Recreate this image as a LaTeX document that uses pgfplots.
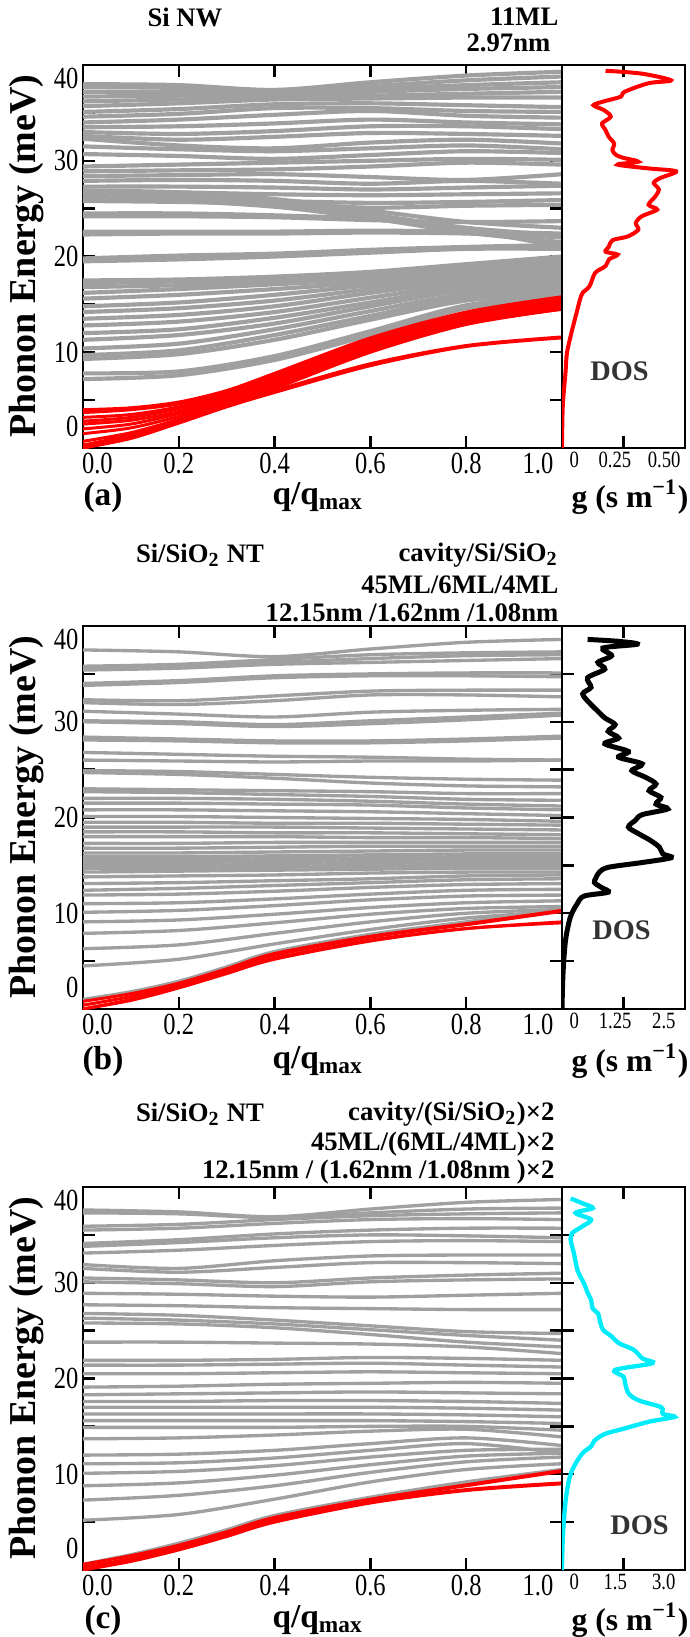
\documentclass[border=0pt]{standalone}
\usepackage{fontspec}
\setmainfont{Liberation Serif}
\newfontfamily\tickfont[FakeStretch=0.8]{Liberation Serif}
\usepackage{pgfplots}
\pgfplotsset{compat=1.18}
\definecolor{bandgray}{RGB}{160,160,160}
\definecolor{dosgray}{RGB}{51,51,51}
\definecolor{doscyan}{RGB}{0,236,250}

\pgfplotsset{
  frame/.style={
    scale only axis, anchor=north west, height=114.9pt, ymin=0, ymax=40,
    axis line style={line width=0.7pt},
    tick align=inside, tick style={black, line width=0.7pt},
    major tick length=3.5pt, minor tick length=3.5pt,
    /pgf/number format/assume math mode=true,
    tick label style={font=\tickfont\fontsize{9.2}{10}\selectfont, inner sep=1.2pt},
    extra x tick style={major tick length=0pt, tick style={draw=none}},
    extra y tick style={major tick length=0pt, tick style={draw=none}},
  },
  disp/.style={frame, width=143.7pt, xmin=0, xmax=1,
    xtick={0.2,0.4,0.6,0.8}, xticklabels={0.2,0.4,0.6,0.8},
    extra x ticks={0.03,0.95}, extra x tick labels={0.0,1.0},
    ytick={10,20,30}, yticklabels={10,20,30}, minor ytick={5,15,25,35},
    extra y ticks={2.2,38.6}, extra y tick labels={0,40},
  },
  dos/.style={frame, width=36.9pt, xmin=0,
    tick label style={font=\tickfont\fontsize{7}{8}\selectfont, inner sep=1pt},
  },
  g/.style={color=bandgray, line width=1.0pt, smooth, no markers},
  r/.style={color=red, line width=0.9pt, smooth, no markers},
}

\begin{document}
\begin{tikzpicture}
\path[use as bounding box] (0,0) rectangle (206.7pt,-491.1pt);

% ---------------- (a) Si NW ----------------
\begin{axis}[disp, at={(24.9pt,-19.5pt)}, g/.append style={line width=1.25pt}]
\addplot[g] coordinates {(0,38.0)(0.2,37.9)(0.4,37.4)(0.6,38.2)(0.8,38.9)(1,39.3)};
\addplot[g] coordinates {(0,37.7)(0.2,37.6)(0.4,37.2)(0.6,37.8)(0.8,38.4)(1,38.8)};
\addplot[g] coordinates {(0,37.2)(0.2,37.2)(0.4,37.0)(0.6,37.5)(0.8,37.9)(1,38.2)};
\addplot[g] coordinates {(0,36.7)(0.2,36.8)(0.4,36.8)(0.6,37.2)(0.8,37.5)(1,37.7)};
\addplot[g] coordinates {(0,36.2)(0.2,36.4)(0.4,36.6)(0.6,36.8)(0.8,37.0)(1,37.2)};
\addplot[g] coordinates {(0,35.7)(0.2,36.0)(0.4,36.4)(0.6,36.5)(0.8,36.6)(1,36.6)};
\addplot[g] coordinates {(0,35.1)(0.2,35.4)(0.4,35.9)(0.6,36.0)(0.8,35.8)(1,35.6)};
\addplot[g] coordinates {(0,34.6)(0.2,34.9)(0.4,35.5)(0.6,35.5)(0.8,35.2)(1,35.1)};
\addplot[g] coordinates {(0,34.0)(0.2,34.3)(0.4,34.8)(0.6,35.2)(0.8,34.7)(1,34.5)};
\addplot[g] coordinates {(0,33.5)(0.2,33.6)(0.4,33.9)(0.6,34.3)(0.8,34.0)(1,33.8)};
\addplot[g] coordinates {(0,33.0)(0.2,32.8)(0.4,33.1)(0.6,33.6)(0.8,33.6)(1,33.3)};
\addplot[g] coordinates {(0,32.6)(0.2,32.2)(0.4,32.5)(0.6,32.9)(0.8,32.8)(1,32.6)};
\addplot[g] coordinates {(0,32.3)(0.2,31.6)(0.4,31.3)(0.6,31.9)(0.8,32.2)(1,31.8)};
\addplot[g] coordinates {(0,31.5)(0.2,31.2)(0.4,31.0)(0.6,31.3)(0.8,31.6)(1,31.2)};
\addplot[g] coordinates {(0,30.7)(0.2,30.5)(0.4,30.2)(0.6,30.6)(0.8,31.0)(1,30.8)};
\addplot[g] coordinates {(0,29.4)(0.2,29.6)(0.4,29.8)(0.6,30.0)(0.8,30.2)(1,30.1)};
\addplot[g] coordinates {(0,28.9)(0.2,29.0)(0.4,29.1)(0.6,29.4)(0.8,29.8)(1,29.6)};
\addplot[g] coordinates {(0,28.4)(0.2,28.5)(0.4,28.6)(0.6,28.3)(0.8,28.0)(1,28.6)};
\addplot[g] coordinates {(0,27.9)(0.2,28.0)(0.4,27.9)(0.6,27.6)(0.8,27.9)(1,27.6)};
\addplot[g] coordinates {(0,27.3)(0.2,27.3)(0.4,27.2)(0.6,27.0)(0.8,27.2)(1,27.4)};
\addplot[g] coordinates {(0,26.8)(0.2,26.7)(0.4,26.5)(0.6,26.4)(0.8,26.5)(1,26.6)};
\addplot[g] coordinates {(0,26.1)(0.2,26.0)(0.4,25.8)(0.6,25.6)(0.8,25.7)(1,25.9)};
\addplot[g] coordinates {(0,25.8)(0.2,25.7)(0.4,25.5)(0.6,25.1)(0.8,25.3)(1,25.4)};
\addplot[g] coordinates {(0,26.9)(0.2,26.7)(0.4,26.0)(0.6,24.8)(0.8,23.6)(1,23.0)};
\addplot[g] coordinates {(0,26.5)(0.2,26.3)(0.4,25.6)(0.6,24.4)(0.8,23.0)(1,22.2)};
\addplot[g] coordinates {(0,26.0)(0.2,25.8)(0.4,25.2)(0.6,24.0)(0.8,22.5)(1,21.5)};
\addplot[g] coordinates {(0,24.5)(0.2,24.5)(0.4,24.3)(0.6,23.9)(0.8,22.8)(1,21.0)};
\addplot[g] coordinates {(0,24.2)(0.2,24.2)(0.4,24.1)(0.6,23.8)(0.8,23.6)(1,23.7)};
\addplot[g] coordinates {(0,22.6)(0.2,22.6)(0.4,22.6)(0.6,22.7)(0.8,22.6)(1,22.4)};
\addplot[g] coordinates {(0,22.3)(0.2,22.4)(0.4,22.4)(0.6,22.5)(0.8,22.4)(1,22.0)};
\addplot[g] coordinates {(0,19.8)(0.2,20.1)(0.4,20.3)(0.6,20.7)(0.8,21.0)(1,21.2)};
\addplot[g] coordinates {(0,19.5)(0.2,19.7)(0.4,20.0)(0.6,20.4)(0.8,20.8)(1,20.8)};
\addplot[g] coordinates {(0,17.5)(0.2,17.6)(0.4,17.9)(0.6,18.4)(0.8,19.2)(1,20.0)};
\addplot[g] coordinates {(0,17.2)(0.2,17.4)(0.4,17.6)(0.6,18.1)(0.8,18.9)(1,19.7)};
\addplot[g] coordinates {(0,16.8)(0.2,17.0)(0.4,17.3)(0.6,17.8)(0.8,18.7)(1,19.4)};
\addplot[g] coordinates {(0,16.2)(0.2,16.6)(0.4,17.1)(0.6,17.6)(0.8,18.4)(1,19.1)};
\addplot[g] coordinates {(0,15.6)(0.2,16.0)(0.4,16.6)(0.6,17.3)(0.8,18.2)(1,18.8)};
\addplot[g] coordinates {(0,14.8)(0.2,15.2)(0.4,16.0)(0.6,17.0)(0.8,17.9)(1,18.5)};
\addplot[g] coordinates {(0,14.2)(0.2,14.6)(0.4,15.4)(0.6,16.6)(0.8,17.7)(1,18.2)};
\addplot[g] coordinates {(0,13.5)(0.2,13.9)(0.4,14.8)(0.6,16.2)(0.8,17.4)(1,17.9)};
\addplot[g] coordinates {(0,12.8)(0.2,13.2)(0.4,14.2)(0.6,15.7)(0.8,17.1)(1,17.6)};
\addplot[g] coordinates {(0,12.0)(0.2,12.4)(0.4,13.6)(0.6,15.2)(0.8,16.8)(1,17.3)};
\addplot[g] coordinates {(0,11.3)(0.2,11.8)(0.4,13.0)(0.6,14.8)(0.8,16.5)(1,17.0)};
\addplot[g] coordinates {(0,10.4)(0.2,10.9)(0.4,12.4)(0.6,14.3)(0.8,16.1)(1,16.7)};
\addplot[g] coordinates {(0,9.7)(0.2,10.2)(0.4,11.8)(0.6,13.8)(0.8,15.8)(1,16.4)};
\addplot[g] coordinates {(0,9.3)(0.2,9.8)(0.4,11.3)(0.6,13.4)(0.8,15.4)(1,16.1)};
\addplot[g] coordinates {(0,7.8)(0.2,8.0)(0.4,9.6)(0.6,12.2)(0.8,14.9)(1,15.9)};
\addplot[g] coordinates {(0,7.2)(0.2,7.6)(0.4,9.2)(0.6,11.8)(0.8,14.6)(1,15.7)};
% acoustic branches
\addplot[r] coordinates {(0,4.0)(0.1,4.2)(0.2,4.8)(0.3,6.0)(0.4,7.8)(0.6,11.5)(0.8,14.2)(1,15.8)};
\addplot[r] coordinates {(0,3.7)(0.1,4.0)(0.2,4.6)(0.3,5.8)(0.4,7.6)(0.6,11.3)(0.8,14.0)(1,15.6)};
\addplot[r] coordinates {(0,3.2)(0.1,3.5)(0.2,4.3)(0.3,5.6)(0.4,7.4)(0.6,11.1)(0.8,13.8)(1,15.4)};
\addplot[r] coordinates {(0,2.8)(0.1,3.2)(0.2,4.1)(0.3,5.4)(0.4,7.2)(0.6,10.9)(0.8,13.7)(1,15.2)};
\addplot[r] coordinates {(0,2.5)(0.1,2.9)(0.2,3.8)(0.3,5.2)(0.4,7.0)(0.6,10.7)(0.8,13.5)(1,15.0)};
\addplot[r] coordinates {(0,2.0)(0.1,2.5)(0.2,3.6)(0.3,5.0)(0.4,6.8)(0.6,10.5)(0.8,13.3)(1,14.8)};
\addplot[r] coordinates {(0,1.5)(0.1,2.1)(0.2,3.3)(0.3,4.8)(0.4,6.6)(0.6,10.4)(0.8,13.2)(1,14.6)};
\addplot[r] coordinates {(0,0.7)(0.1,1.6)(0.2,3.0)(0.3,4.6)(0.4,6.4)(0.6,10.2)(0.8,13.0)(1,14.5)};
\addplot[r] coordinates {(0,0.3)(0.1,1.4)(0.2,2.9)(0.3,4.4)(0.4,6.2)(0.6,10.0)(0.8,12.9)(1,14.5)};
\addplot[r] coordinates {(0,0.0)(0.1,1.2)(0.2,2.8)(0.3,4.5)(0.4,6.0)(0.6,8.8)(0.8,10.7)(1,11.6)};
\addplot[r] coordinates {(0,0.0)(0.1,1.0)(0.2,2.6)(0.3,4.3)(0.4,5.8)(0.6,8.6)(0.8,10.6)(1,11.5)};
\end{axis}
\begin{axis}[dos, at={(168.6pt,-19.5pt)}, xmax=0.5,
  xtick={0.25}, xticklabels={}, ytick=\empty,
  extra x ticks={0.05,0.215,0.415}, extra x tick labels={0,0.25,0.50}]
\addplot[red, line width=1.2pt, smooth] coordinates {
 (0,0)(0.003,4.3)(0.014,7.8)(0.02,9.9)(0.038,12.0)(0.059,14.1)(0.073,15.5)
 (0.084,16.2)(0.112,16.9)(0.135,18.3)(0.177,19.0)(0.191,19.7)(0.226,20.2)
 (0.177,20.5)(0.19,21.0)(0.205,21.7)(0.268,22.1)(0.31,22.8)(0.30,23.5)
 (0.324,24.2)(0.387,24.9)(0.352,25.4)(0.38,26.3)(0.394,27.0)(0.373,27.7)
 (0.40,28.2)(0.464,28.9)(0.352,29.2)(0.226,29.6)(0.31,29.9)(0.25,30.3)
 (0.22,30.6)(0.205,31.1)(0.212,31.8)(0.19,32.5)(0.177,33.2)(0.163,33.9)
 (0.198,34.6)(0.17,35.3)(0.128,35.8)(0.17,36.2)(0.24,36.7)(0.254,37.2)
 (0.352,38.1)(0.443,38.4)(0.324,39.1)(0.177,39.4)};
\node[font=\bfseries\fontsize{8.5}{9}\selectfont, text=dosgray] at (axis cs:0.234,8.0) {DOS};
\end{axis}

% ---------------- (b) Si/SiO2 NT ----------------
\begin{axis}[disp, at={(24.9pt,-187.8pt)}]
\addplot[g] coordinates {(0,37.5)(0.2,37.3)(0.4,36.8)(0.6,37.6)(0.8,38.3)(1,38.6)};
\addplot[g] coordinates {(0,35.8)(0.2,36.0)(0.4,36.5)(0.6,37.0)(0.8,37.2)(1,37.3)};
\addplot[g] coordinates {(0,35.6)(0.2,35.8)(0.4,36.2)(0.6,36.6)(0.8,36.9)(1,37.0)};
\addplot[g] coordinates {(0,35.4)(0.2,35.6)(0.4,36.0)(0.6,36.2)(0.8,36.4)(1,36.6)};
\addplot[g] coordinates {(0,34.0)(0.2,34.3)(0.4,34.8)(0.6,35.0)(0.8,35.1)(1,35.1)};
\addplot[g] coordinates {(0,33.8)(0.2,34.1)(0.4,34.6)(0.6,34.8)(0.8,34.8)(1,34.7)};
\addplot[g] coordinates {(0,32.3)(0.2,32.2)(0.4,32.7)(0.6,33.2)(0.8,33.3)(1,33.3)};
\addplot[g] coordinates {(0,32.0)(0.2,31.8)(0.4,32.2)(0.6,32.8)(0.8,32.8)(1,32.6)};
\addplot[g] coordinates {(0,31.1)(0.2,30.8)(0.4,30.5)(0.6,31.0)(0.8,31.2)(1,31.3)};
\addplot[g] coordinates {(0,30.1)(0.2,30.0)(0.4,29.7)(0.6,30.1)(0.8,30.5)(1,30.9)};
\addplot[g] coordinates {(0,30.0)(0.2,29.8)(0.4,29.5)(0.6,29.8)(0.8,30.2)(1,30.7)};
\addplot[g] coordinates {(0,28.4)(0.2,28.2)(0.4,28.0)(0.6,28.0)(0.8,28.2)(1,28.5)};
\addplot[g] coordinates {(0,28.1)(0.2,28.0)(0.4,27.8)(0.6,27.8)(0.8,28.0)(1,28.3)};
\addplot[g] coordinates {(0,26.8)(0.2,26.6)(0.4,26.4)(0.6,26.3)(0.8,26.1)(1,26.0)};
\addplot[g] coordinates {(0,26.0)(0.2,25.9)(0.4,25.8)(0.6,25.9)(0.8,25.9)(1,26.0)};
\addplot[g] coordinates {(0,24.9)(0.2,24.8)(0.4,24.5)(0.6,24.2)(0.8,24.0)(1,23.9)};
\addplot[g] coordinates {(0,24.7)(0.2,24.5)(0.4,24.1)(0.6,23.6)(0.8,23.3)(1,23.2)};
\addplot[g] coordinates {(0,23.0)(0.2,22.9)(0.4,22.8)(0.6,22.7)(0.8,22.5)(1,22.5)};
\addplot[g] coordinates {(0,22.7)(0.2,22.6)(0.4,22.4)(0.6,22.2)(0.8,21.9)(1,21.8)};
\addplot[g] coordinates {(0,22.0)(0.2,22.0)(0.4,21.9)(0.6,21.7)(0.8,21.4)(1,21.2)};
\addplot[g] coordinates {(0,21.5)(0.2,21.5)(0.4,21.4)(0.6,21.3)(0.8,21.0)(1,20.8)};
\addplot[g] coordinates {(0,20.8)(0.2,20.8)(0.4,20.7)(0.6,20.6)(0.8,20.4)(1,20.2)};
\addplot[g] coordinates {(0,20.1)(0.2,20.1)(0.4,20.0)(0.6,19.9)(0.8,19.8)(1,19.6)};
\addplot[g] coordinates {(0,19.5)(0.2,19.5)(0.4,19.4)(0.6,19.4)(0.8,19.3)(1,19.2)};
\addplot[g] coordinates {(0,19.0)(0.2,19.0)(0.4,19.0)(0.6,18.9)(0.8,18.8)(1,18.7)};
\addplot[g] coordinates {(0,18.5)(0.2,18.5)(0.4,18.4)(0.6,18.4)(0.8,18.3)(1,18.2)};
\addplot[g] coordinates {(0,18.0)(0.2,18.0)(0.4,18.0)(0.6,17.9)(0.8,17.9)(1,17.8)};
\addplot[g] coordinates {(0,17.3)(0.2,17.3)(0.4,17.4)(0.6,17.4)(0.8,17.4)(1,17.4)};
\addplot[g] coordinates {(0,16.8)(0.2,16.8)(0.4,16.9)(0.6,17.0)(0.8,17.0)(1,17.0)};
\addplot[g] coordinates {(0,16.3)(0.2,16.3)(0.4,16.4)(0.6,16.5)(0.8,16.6)(1,16.6)};
\addplot[g] coordinates {(0,15.9)(0.2,15.9)(0.4,16.0)(0.6,16.1)(0.8,16.2)(1,16.2)};
\addplot[g] coordinates {(0,15.6)(0.2,15.6)(0.4,15.7)(0.6,15.8)(0.8,15.9)(1,15.9)};
\addplot[g] coordinates {(0,15.3)(0.2,15.3)(0.4,15.4)(0.6,15.5)(0.8,15.6)(1,15.6)};
\addplot[g] coordinates {(0,15.0)(0.2,15.0)(0.4,15.1)(0.6,15.2)(0.8,15.3)(1,15.3)};
\addplot[g] coordinates {(0,14.7)(0.2,14.7)(0.4,14.8)(0.6,14.9)(0.8,15.0)(1,15.0)};
\addplot[g] coordinates {(0,14.3)(0.2,14.4)(0.4,14.5)(0.6,14.6)(0.8,14.7)(1,14.7)};
\addplot[g] coordinates {(0,13.8)(0.2,13.9)(0.4,14.0)(0.6,14.2)(0.8,14.3)(1,14.3)};
\addplot[g] coordinates {(0,13.1)(0.2,13.2)(0.4,13.4)(0.6,13.6)(0.8,13.9)(1,14.0)};
\addplot[g] coordinates {(0,12.4)(0.2,12.6)(0.4,12.9)(0.6,13.2)(0.8,13.5)(1,13.6)};
\addplot[g] coordinates {(0,11.9)(0.2,12.0)(0.4,12.3)(0.6,12.7)(0.8,13.0)(1,13.1)};
\addplot[g] coordinates {(0,11.0)(0.2,11.1)(0.4,11.5)(0.6,12.0)(0.8,12.4)(1,12.5)};
\addplot[g] coordinates {(0,10.1)(0.2,10.3)(0.4,10.8)(0.6,11.4)(0.8,11.8)(1,11.9)};
\addplot[g] coordinates {(0,9.1)(0.2,9.3)(0.4,9.9)(0.6,10.6)(0.8,11.1)(1,11.3)};
\addplot[g] coordinates {(0,7.9)(0.2,8.2)(0.4,9.0)(0.6,9.9)(0.8,10.5)(1,10.7)};
\addplot[g] coordinates {(0,6.3)(0.2,6.7)(0.4,7.9)(0.6,9.1)(0.8,10.0)(1,10.4)};
\addplot[g] coordinates {(0,4.5)(0.2,5.2)(0.4,6.8)(0.6,8.3)(0.8,9.5)(1,10.2)};
\addplot[g] coordinates {(0,1.0)(0.1,1.8)(0.2,2.9)(0.3,4.4)(0.4,6.0)(0.6,7.8)(0.8,9.1)(1,10.5)};
\addplot[r] coordinates {(0,0.8)(0.1,1.6)(0.2,2.7)(0.3,4.2)(0.4,5.8)(0.6,7.6)(0.8,8.9)(1,10.3)};
\addplot[r] coordinates {(0,0.4)(0.1,1.3)(0.2,2.5)(0.3,4.0)(0.4,5.6)(0.6,7.5)(0.8,8.8)(1,10.2)};
\addplot[r] coordinates {(0,0.0)(0.1,1.0)(0.2,2.3)(0.3,3.8)(0.4,5.3)(0.6,7.2)(0.8,8.4)(1,9.1)};
\addplot[r] coordinates {(0,0.0)(0.1,0.9)(0.2,2.2)(0.3,3.7)(0.4,5.2)(0.6,7.1)(0.8,8.4)(1,9.0)};
\end{axis}
\begin{axis}[dos, at={(168.6pt,-187.8pt)}, xmax=2.5,
  xtick={1.25}, xticklabels={},
  ytick={5,10,15,20,25,30,35}, yticklabels={}, ytick pos=left,
  extra x ticks={0.25,1.08,2.07}, extra x tick labels={0,1.25,2.5}]
\addplot[black, line width=1.5pt, smooth] coordinates {
 (0,0)(0.02,3.65)(0.07,7.1)(0.17,9.6)(0.31,11.0)(0.45,11.8)(0.94,12.2)
 (0.80,12.7)(0.66,13.2)(0.69,13.7)(0.76,14.3)(0.94,14.8)(1.63,15.3)
 (2.22,15.8)(2.05,16.2)(1.98,16.9)(1.80,17.6)(1.56,18.3)(1.35,19.0)
 (1.49,19.7)(1.63,20.3)(2.15,20.9)(1.91,21.4)(2.01,22.1)(1.77,22.8)
 (1.91,23.5)(1.70,24.2)(1.42,24.9)(1.63,25.6)(1.15,26.3)(1.35,26.9)
 (0.87,27.7)(1.15,28.3)(0.94,29.0)(1.08,29.7)(0.87,30.4)(0.73,31.1)
 (0.59,31.8)(0.42,32.9)(0.59,33.6)(0.52,34.6)(0.87,35.5)(0.73,36.2)
 (1.01,36.9)(0.83,37.7)(1.53,38.1)(1.15,38.4)(0.52,38.6)};
\node[font=\bfseries\fontsize{8.5}{9}\selectfont, text=dosgray] at (axis cs:1.21,8.2) {DOS};
\end{axis}

% ---------------- (c) Si/SiO2 NT x2 ----------------
\begin{axis}[disp, at={(24.9pt,-356.1pt)}]
\addplot[g] coordinates {(0,37.6)(0.2,37.4)(0.4,36.9)(0.6,37.7)(0.8,38.4)(1,38.7)};
\addplot[g] coordinates {(0,37.3)(0.2,37.2)(0.4,36.8)(0.6,37.3)(0.8,37.7)(1,37.8)};
\addplot[g] coordinates {(0,35.9)(0.2,36.1)(0.4,36.6)(0.6,37.0)(0.8,37.2)(1,37.3)};
\addplot[g] coordinates {(0,35.5)(0.2,35.7)(0.4,36.2)(0.6,36.6)(0.8,36.7)(1,36.6)};
\addplot[g] coordinates {(0,34.1)(0.2,34.5)(0.4,35.1)(0.6,35.5)(0.8,35.7)(1,35.7)};
\addplot[g] coordinates {(0,33.8)(0.2,34.2)(0.4,34.7)(0.6,35.0)(0.8,34.9)(1,34.7)};
\addplot[g] coordinates {(0,33.1)(0.2,33.4)(0.4,33.9)(0.6,34.3)(0.8,34.4)(1,34.3)};
\addplot[g] coordinates {(0,31.9)(0.2,31.5)(0.4,32.3)(0.6,32.8)(0.8,32.9)(1,32.9)};
\addplot[g] coordinates {(0,31.5)(0.2,31.1)(0.4,31.6)(0.6,32.1)(0.8,32.1)(1,32.0)};
\addplot[g] coordinates {(0,30.5)(0.2,30.3)(0.4,30.0)(0.6,30.5)(0.8,30.8)(1,31.0)};
\addplot[g] coordinates {(0,30.1)(0.2,29.9)(0.4,29.6)(0.6,30.1)(0.8,30.3)(1,30.4)};
\addplot[g] coordinates {(0,28.9)(0.2,28.8)(0.4,28.6)(0.6,28.5)(0.8,28.7)(1,28.9)};
\addplot[g] coordinates {(0,27.7)(0.2,27.6)(0.4,27.4)(0.6,27.3)(0.8,27.2)(1,27.2)};
\addplot[g] coordinates {(0,26.8)(0.2,26.6)(0.4,26.1)(0.6,25.5)(0.8,24.9)(1,24.7)};
\addplot[g] coordinates {(0,26.3)(0.2,26.1)(0.4,25.7)(0.6,25.1)(0.8,24.5)(1,24.0)};
\addplot[g] coordinates {(0,25.8)(0.2,25.7)(0.4,25.3)(0.6,24.6)(0.8,23.8)(1,23.3)};
\addplot[g] coordinates {(0,23.8)(0.2,23.8)(0.4,23.7)(0.6,23.6)(0.8,23.3)(1,22.6)};
\addplot[g] coordinates {(0,21.9)(0.2,21.9)(0.4,22.0)(0.6,22.2)(0.8,22.1)(1,21.9)};
\addplot[g] coordinates {(0,21.4)(0.2,21.4)(0.4,21.5)(0.6,21.6)(0.8,21.4)(1,21.2)};
\addplot[g] coordinates {(0,20.5)(0.2,20.5)(0.4,20.6)(0.6,20.7)(0.8,20.6)(1,20.5)};
\addplot[g] coordinates {(0,19.1)(0.2,19.2)(0.4,19.4)(0.6,19.5)(0.8,19.6)(1,19.5)};
\addplot[g] coordinates {(0,18.3)(0.2,18.4)(0.4,18.5)(0.6,18.6)(0.8,18.5)(1,18.4)};
\addplot[g] coordinates {(0,17.6)(0.2,17.6)(0.4,17.7)(0.6,17.7)(0.8,17.6)(1,17.4)};
\addplot[g] coordinates {(0,17.0)(0.2,17.0)(0.4,17.0)(0.6,17.0)(0.8,16.9)(1,16.7)};
\addplot[g] coordinates {(0,16.3)(0.2,16.3)(0.4,16.3)(0.6,16.3)(0.8,16.2)(1,16.0)};
\addplot[g] coordinates {(0,15.6)(0.2,15.6)(0.4,15.6)(0.6,15.6)(0.8,15.5)(1,15.3)};
\addplot[g] coordinates {(0,14.9)(0.2,14.9)(0.4,14.9)(0.6,15.0)(0.8,15.0)(1,14.6)};
\addplot[g] coordinates {(0,13.7)(0.2,13.8)(0.4,14.1)(0.6,14.5)(0.8,14.7)(1,13.9)};
\addplot[g] coordinates {(0,12.0)(0.2,12.1)(0.4,12.5)(0.6,13.2)(0.8,13.8)(1,13.0)};
\addplot[g] coordinates {(0,11.1)(0.2,11.2)(0.4,11.7)(0.6,12.5)(0.8,13.2)(1,12.2)};
\addplot[g] coordinates {(0,10.1)(0.2,10.3)(0.4,10.9)(0.6,11.8)(0.8,12.5)(1,12.6)};
\addplot[g] coordinates {(0,8.8)(0.2,9.1)(0.4,9.9)(0.6,11.0)(0.8,11.9)(1,12.2)};
\addplot[g] coordinates {(0,7.3)(0.2,7.8)(0.4,8.8)(0.6,10.2)(0.8,11.3)(1,11.8)};
\addplot[g] coordinates {(0,5.2)(0.2,5.8)(0.4,7.4)(0.6,9.2)(0.8,10.5)(1,11.1)};
\addplot[g] coordinates {(0,0.6)(0.1,1.6)(0.2,2.8)(0.3,4.2)(0.4,5.7)(0.6,7.6)(0.8,9.2)(1,10.5)};
\addplot[r] coordinates {(0,0.6)(0.1,1.5)(0.2,2.6)(0.3,4.0)(0.4,5.5)(0.6,7.4)(0.8,8.9)(1,10.4)};
\addplot[r] coordinates {(0,0.3)(0.1,1.2)(0.2,2.4)(0.3,3.8)(0.4,5.3)(0.6,7.3)(0.8,8.8)(1,10.3)};
\addplot[r] coordinates {(0,0.0)(0.1,1.0)(0.2,2.2)(0.3,3.6)(0.4,5.1)(0.6,7.1)(0.8,8.4)(1,9.1)};
\addplot[r] coordinates {(0,0.0)(0.1,0.9)(0.2,2.1)(0.3,3.5)(0.4,5.0)(0.6,7.0)(0.8,8.3)(1,9.0)};
\end{axis}
\begin{axis}[dos, at={(168.6pt,-356.1pt)}, xmax=3.0,
  xtick={1.5}, xticklabels={},
  ytick={5,10,15,20,25,30,35}, yticklabels={}, ytick pos=left,
  extra x ticks={0.3,1.3,2.48}, extra x tick labels={0,1.5,3.0}]
\addplot[doscyan, line width=1.3pt, smooth] coordinates {
 (0,0)(0.02,3.4)(0.08,6.9)(0.17,9.4)(0.29,10.8)(0.5,12.2)(0.71,12.9)
 (0.79,13.5)(1.04,14.2)(1.54,14.8)(2.13,15.5)(2.75,16.0)(2.46,16.3)
 (2.42,17.0)(1.88,17.7)(1.63,18.4)(1.54,19.5)(1.5,20.2)(1.29,20.9)
 (2.21,21.6)(1.96,22.1)(1.75,23.0)(1.38,23.7)(1.21,24.4)(1.0,25.1)
 (0.92,26.1)(0.88,26.8)(0.75,27.3)(0.71,28.2)(0.63,28.9)(0.54,29.9)
 (0.38,31.3)(0.29,33.1)(0.21,34.5)(0.25,35.2)(0.5,35.9)(0.71,36.6)
 (0.33,37.3)(0.75,37.8)(0.5,38.3)(0.21,38.8)};
\node[font=\bfseries\fontsize{8.5}{9}\selectfont, text=dosgray] at (axis cs:1.89,4.7) {DOS};
\end{axis}

% ---------------- titles and labels (pixel grid) ----------------
\begin{scope}[x=0.3pt, y=-0.3pt, every node/.style={inner sep=0pt, font=\bfseries\fontsize{8}{9}\selectfont}]
\node at (185,17) {Si NW};
\node[anchor=east] at (559,17) {11ML};
\node[anchor=east] at (551,43) {2.97nm};

\node at (200,555) {Si/SiO\textsubscript{2} NT};
\node[anchor=east] at (559,555) {cavity/Si/SiO\textsubscript{2}};
\node[anchor=east] at (559,585) {45ML/6ML/4ML};
\node[anchor=east] at (559,613) {12.15nm /1.62nm /1.08nm};

\node at (200,1114) {Si/SiO\textsubscript{2} NT};
\node[anchor=east] at (555,1114) {cavity/(Si/SiO\textsubscript{2})×2};
\node[anchor=east] at (555,1144) {45ML/(6ML/4ML)×2};
\node[anchor=east] at (555,1172) {12.15nm / (1.62nm /1.08nm )×2};

\foreach \yc/\yl/\lab in {256/497/a, 817/1061/b, 1378/1620/c}{
  \node[rotate=90, font=\bfseries\fontsize{11.4}{12}\selectfont] at (27,\yc) {Phonon Energy (meV)};
  \node[font=\bfseries\fontsize{10}{11}\selectfont] at (103,\yl) {(\lab)};
  \node[font=\bfseries\fontsize{10}{11}\selectfont] at (318,\yl) {q/q\textsubscript{max}};
  \node[font=\bfseries\fontsize{9.5}{11}\selectfont] at (630,\yl) {g (s m\textsuperscript{−1})};
}
\end{scope}
\end{tikzpicture}
\end{document}
